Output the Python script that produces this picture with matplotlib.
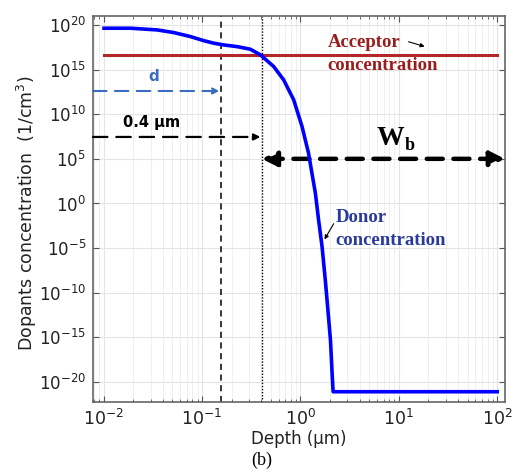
import numpy as np
import matplotlib
matplotlib.use('Agg')
from matplotlib import pyplot as plt

# donor profile (depth in um, log10 of concentration)
depth = [0.0101, 0.0188, 0.035, 0.0518, 0.076, 0.104, 0.132, 0.166, 0.227, 0.31,
         0.393, 0.536, 0.676, 0.855, 1.04, 1.21, 1.31, 1.42, 1.53, 1.66,
         1.79, 1.89, 2.02, 2.10, 2.15, 100]
donor_log = [19.63, 19.63, 19.44, 19.14, 18.7, 18.24, 17.95, 17.76, 17.57, 17.28,
             16.64, 15.33, 13.84, 11.6, 8.6, 5.62, 3.38, 1.14, -1.85, -4.84,
             -8.57, -11.56, -15.29, -19.03, -21.09, -21.09]
acceptor_x = [0.01, 100]
acceptor_log = [16.64, 16.64]

d_depth = 0.155
w_depth = 0.405
d_arrow_y = 10**12.6
w_arrow_y = 10**7.45
wb_arrow_y = 10**5.0

fig = plt.figure(figsize=(5.19, 4.73), dpi=100)
ax = fig.add_axes([93/519, 1-402/473, (505-93)/519, (402-16)/473])

ax.plot(depth, 10**np.array(donor_log), color='#0000ff', lw=2.6, zorder=4,
        solid_joinstyle='round')
ax.plot(acceptor_x, 10**np.array(acceptor_log), color='#b5262a', lw=2.2, zorder=3)

ax.set_xscale('log')
ax.set_yscale('log')
ax.set_xlim(0.0078, 120)
ax.set_ylim(10**-22.24, 10**21.0)
ax.set_yticks([10.0**k for k in range(-20, 21, 5)])
ax.yaxis.set_minor_locator(matplotlib.ticker.NullLocator())
ax.xaxis.set_major_locator(matplotlib.ticker.LogLocator(base=10, numticks=10))
ax.xaxis.set_minor_locator(matplotlib.ticker.LogLocator(base=10, subs=np.arange(2, 10), numticks=20))

ax.grid(True, which='major', color='#e4e4e4', lw=0.8)
ax.grid(True, which='minor', axis='x', color='#ececec', lw=0.6)
ax.set_axisbelow(True)
ax.tick_params(which='both', direction='in', top=True, right=True, color='#555555')
ax.tick_params(which='major', length=4, labelsize=12, pad=5, labelcolor='#222222')
ax.tick_params(axis='x', which='major', labelsize=12.5)
ax.tick_params(which='minor', length=2.5)
for s in ax.spines.values():
    s.set_color('#666666')
    s.set_linewidth(1.2)

ax.set_xlabel('Depth (µm)', fontsize=12, color='#222222')
ax.xaxis.set_label_coords(0.5, -0.072)
ax.set_ylabel('Dopants concentration  (1/cm$^3$)', fontsize=12.5, color='#222222')
ax.yaxis.set_label_coords(-0.131, 0.49)

# vertical guide lines
ax.axvline(d_depth, color='black', lw=1.1, ls=(0, (4, 3)), zorder=2)
ax.axvline(w_depth, color='black', lw=1.0, ls=(0, (1, 1.2)), zorder=2)

# d arrow
ax.annotate('', xy=(d_depth, d_arrow_y), xytext=(0.0078, d_arrow_y),
            arrowprops=dict(arrowstyle='-|>', color='#3a6cc0', lw=1.5,
                            ls=(0, (6.5, 4)), mutation_scale=9, shrinkA=0, shrinkB=1))
ax.text(0.032, 10**13.4, 'd', color='#3a6cc0', fontsize=11, fontweight='bold',
        ha='center', va='bottom')

# 0.4 um arrow
ax.annotate('', xy=(w_depth, w_arrow_y), xytext=(0.0078, w_arrow_y),
            arrowprops=dict(arrowstyle='-|>', color='black', lw=1.6,
                            ls=(0, (6.5, 4)), mutation_scale=9, shrinkA=0, shrinkB=1))
ax.text(0.031, 10**8.2, '0.4 µm', color='black', fontsize=10.5, fontweight='bold',
        ha='center', va='bottom')

# W_b double arrow
ax.annotate('', xy=(120, wb_arrow_y), xytext=(w_depth, wb_arrow_y),
            arrowprops=dict(arrowstyle='<|-|>', color='black', lw=3.2,
                            ls=(0, (3.6, 2.4)), mutation_scale=22, shrinkA=0, shrinkB=0))
ax.text(11.3, 10**7.23, 'W', color='black', fontsize=20, fontweight='bold',
        family='Liberation Serif', ha='right', va='center')
ax.text(11.4, 10**6.5, 'b', color='black', fontsize=13, fontweight='bold',
        family='Liberation Serif', ha='left', va='center')

# labels
ax.text(1.9, 10**17.98, 'Acceptor', color='#9a1c1c', fontsize=13.5,
        fontweight='bold', family='Liberation Serif', ha='left', va='center')
ax.text(1.9, 10**15.4, 'concentration', color='#9a1c1c', fontsize=13.5,
        fontweight='bold', family='Liberation Serif', ha='left', va='center')
ax.annotate('', xy=(19.5, 10**17.5), xytext=(11.8, 10**18.2),
            arrowprops=dict(arrowstyle='-|>', color='black', lw=0.8, mutation_scale=6))

ax.text(2.26, 10**-1.62, 'Donor', color='#2a3a9a', fontsize=13.5,
        fontweight='bold', family='Liberation Serif', ha='left', va='center')
ax.text(2.26, 10**-4.2, 'concentration', color='#2a3a9a', fontsize=13.5,
        fontweight='bold', family='Liberation Serif', ha='left', va='center')
ax.annotate('', xy=(1.7, 10**-4.3), xytext=(2.25, 10**-2.0),
            arrowprops=dict(arrowstyle='-|>', color='black', lw=0.8, mutation_scale=6))

fig.text(262/519, 1-460/473, '(b)', fontsize=13, family='Liberation Serif',
         ha='center', va='center')

fig.savefig('out.png', dpi=100)
